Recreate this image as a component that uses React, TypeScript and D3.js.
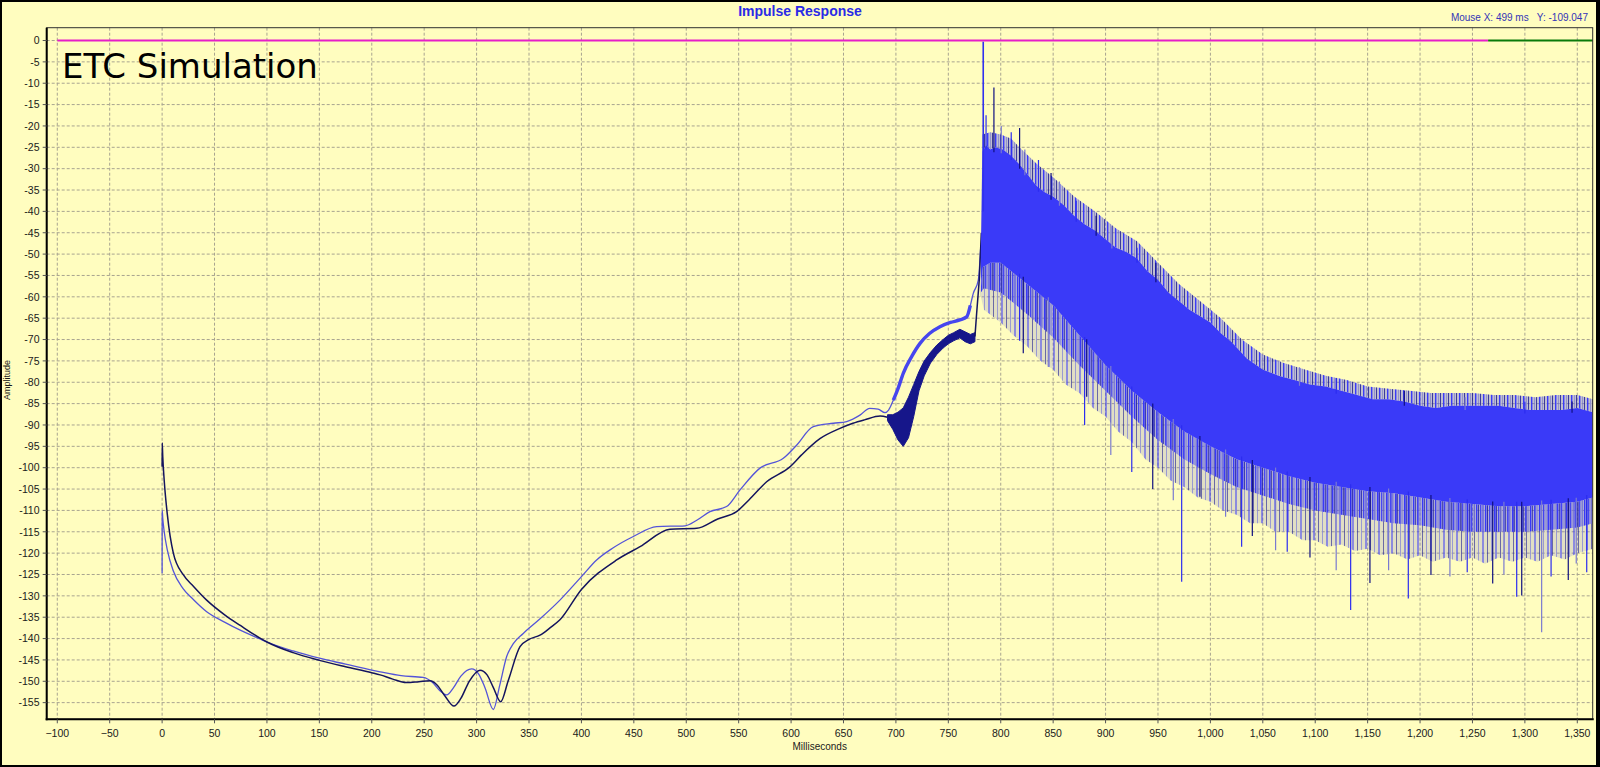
import React, { useEffect } from "react";
import * as d3 from "d3";

const W = 1600;
const H = 767;

const xTicks = [-100, -50, 0, 50, 100, 150, 200, 250, 300, 350, 400, 450, 500, 550, 600, 650, 700, 750, 800, 850, 900, 950, 1000, 1050, 1100, 1150, 1200, 1250, 1300, 1350];
const yTicks = [0, -5, -10, -15, -20, -25, -30, -35, -40, -45, -50, -55, -60, -65, -70, -75, -80, -85, -90, -95, -100, -105, -110, -115, -120, -125, -130, -135, -140, -145, -150, -155];

type P = [number, number];

// dark (navy) smooth series
const darkCurve: P[] = [
  [0, -99.8], [0.1, -94.2], [0.6, -97.4], [2, -103], [5, -111], [10.7, -120], [20, -125], [30, -127.8], [42.5, -131],
  [60, -134.5], [75, -137], [93.4, -139.9], [100, -140.8], [125, -143.3], [150, -145.1], [175, -146.6], [200, -148],
  [208, -148.5], [220, -149.5], [233, -150.3], [245, -150.1], [255.5, -149.9], [262, -150.8], [270, -153.5], [278.4, -155.8],
  [285, -154], [293, -150], [303.2, -147.4], [310, -148.5], [316, -151.5], [323, -154.8], [330, -150], [341.4, -141.9],
  [350, -140.2], [360.5, -139.2], [370, -137.5], [379.5, -135.6], [400, -128.5], [433.6, -121.6], [455.9, -118.5],
  [484.5, -114.4], [510, -114.2], [530, -112], [548, -110.3], [560, -107.5], [576.7, -103.3], [598.9, -99.8], [610, -97],
  [627.5, -93.2], [646.6, -90.8], [659, -89.6], [670, -88.8], [685, -87.9], [692, -88.2]
];
// dark series noisy stretch (envelope)
const darkNoiseUpper: P[] = [
  [692, -87.6], [697, -87.6], [702, -87], [707, -86], [712, -83.5], [717, -80.5], [722, -77.5], [727, -75], [733, -73],
  [739, -71.3], [745, -70], [750, -69], [755, -68.4], [761, -67.6], [766, -68.2], [771, -68.8], [775.4, -68.4]
];
const darkNoiseLower: P[] = [
  [692, -89], [697, -91], [702, -93.5], [707, -95], [712, -93], [717, -88], [722, -82], [727, -78.5], [733, -75.5],
  [739, -73.5], [745, -72], [750, -71], [755, -70.3], [761, -69.6], [766, -70.5], [771, -71], [775.4, -70.5]
];
const darkRise: P[] = [[775.4, -69.3], [777, -63.9], [779.5, -56.1], [781.5, -45]];

// light (blue) smooth series
const lightCurve: P[] = [
  [0, -124.7], [0.1, -110], [0.6, -111.8], [2, -115], [5, -119.3], [10.7, -124.2], [20, -128.3], [30, -130.9], [42.5, -133.7],
  [60, -136.2], [75, -138.1], [93.4, -140.1], [100, -140.8], [125, -142.9], [150, -144.6], [175, -146], [200, -147.4],
  [208, -147.8], [228, -148.7], [249, -149.1], [258, -150.3], [265, -152.2], [271.5, -153.2], [278, -151.5], [285, -148.8],
  [295.3, -147.1], [302, -148.3], [308, -151.5], [316, -156.6], [322, -151], [328.7, -144.2], [335, -141.2], [344.5, -138.8],
  [360, -135.5], [379.5, -131], [400, -125.5], [414.5, -121.6], [430, -118.8], [449.5, -116.1], [471.8, -113.8],
  [498.8, -113.6], [510, -112.3], [522.6, -110.3], [538.5, -109.1], [551.3, -105.2], [570.3, -100.1], [592.6, -97.8],
  [605, -94.8], [621.2, -90.4], [640.3, -89.6], [653, -89.2], [665.7, -87.7], [675, -86.1], [683, -86.3], [689.6, -87.1],
  [693, -86.5], [697.5, -84.2], [702, -81.5], [707, -77.9], [715, -74], [723, -70.9], [732, -68.6], [742, -67], [752, -66],
  [761, -65.4], [767.5, -64.7], [771, -62], [773.8, -59.2], [778.6, -56.1], [781, -48]
];

// dense decay region after the direct arrival
const topFringe: P[] = [
  [782.5, -22], [790, -21.5], [800, -22], [810, -23], [820, -25.5], [835, -29], [850, -32], [870, -36.5], [890, -40],
  [910, -44], [930, -47], [950, -52], [970, -57], [990, -61], [1010, -65], [1030, -70], [1050, -73.5], [1070, -75.5],
  [1090, -77], [1110, -78.5], [1130, -79.5], [1150, -81], [1170, -81.5], [1190, -82], [1210, -82.5], [1230, -82.5],
  [1250, -82.5], [1270, -83], [1290, -83], [1310, -83.5], [1330, -83], [1350, -83], [1365, -84]
];
const bodyUpper: P[] = [
  [781, -50], [782.5, -26], [786, -24.5], [790, -25.5], [795, -25], [802, -25.5], [810, -27], [818, -29], [826, -31.5],
  [834, -34], [842, -35.5], [850, -36.5], [860, -38.5], [870, -41], [880, -43], [890, -44.5], [900, -46.5], [910, -48.5],
  [920, -49.5], [930, -51], [940, -54], [950, -56], [960, -59], [970, -61], [980, -63], [990, -64.5], [1000, -66],
  [1010, -68.5], [1020, -70.5], [1035, -74.5], [1050, -77], [1065, -78.5], [1080, -79.5], [1095, -80.5], [1110, -81],
  [1125, -82], [1140, -83], [1155, -84], [1170, -84], [1185, -84.5], [1200, -85.5], [1215, -86], [1230, -85.5],
  [1245, -85.5], [1260, -85.5], [1275, -85.5], [1290, -86], [1305, -86.5], [1320, -86.5], [1335, -86.5], [1350, -86], [1365, -87]
];
const bodyLower: P[] = [
  [781, -58], [783, -53], [790, -52], [800, -52], [825, -57], [850, -62], [875, -69], [900, -76], [925, -82], [950, -87],
  [975, -91.5], [1000, -95], [1025, -98], [1050, -100], [1075, -102], [1100, -103.5], [1125, -104.5], [1150, -105.5],
  [1175, -106], [1200, -107], [1225, -108], [1250, -108.5], [1275, -109], [1300, -109], [1325, -108.5], [1350, -108], [1365, -107]
];
const fringeMid: P[] = [
  [781, -59], [784, -58], [800, -59], [825, -64], [850, -69.5], [875, -76], [900, -82], [925, -88], [950, -93.5],
  [975, -98], [1000, -101.5], [1025, -104.5], [1050, -106.5], [1075, -108.5], [1100, -110], [1125, -111], [1150, -112],
  [1175, -113], [1200, -113.5], [1225, -114.5], [1250, -115], [1275, -115], [1300, -115], [1325, -114.5], [1350, -114], [1365, -113]
];
const fringeLower: P[] = [
  [781, -60], [784, -63], [800, -66], [812, -69], [825, -71.5], [838, -75], [850, -77], [862, -80.5], [875, -82.5],
  [888, -86], [900, -88], [912, -91.5], [925, -94], [938, -98], [950, -100], [962, -103], [975, -104.5], [988, -107],
  [1000, -108], [1012, -110], [1025, -111], [1038, -113], [1050, -113], [1062, -115], [1075, -115], [1088, -117],
  [1100, -117], [1112, -118.5], [1125, -118], [1138, -119.5], [1150, -119], [1162, -120.5], [1175, -120], [1188, -121.5],
  [1200, -120.5], [1212, -122], [1225, -121], [1238, -122], [1250, -121], [1262, -122.5], [1275, -121], [1288, -122],
  [1300, -121], [1312, -122], [1325, -120.5], [1338, -121.5], [1350, -120], [1365, -119]
];
const spikesUp: P[] = [
  [786, -17.5], [793.5, -11], [800.5, -20], [810, -21.5], [818, -20.5], [823, -25.5], [836, -28], [848, -31], [856, -33],
  [872, -37.5], [891, -41], [906, -43.5], [930, -48.5], [948, -52], [1085, -76.5], [1120, -79], [1185, -82], [1243, -83.5],
  [1300, -84.5], [1345, -84.5]
];
const spikesDown: P[] = [
  [818, -70.3], [821.5, -73.2], [845.4, -76.4], [880, -90], [882, -83.4], [905, -97], [925, -101], [945, -105],
  [964.6, -107.6], [972.6, -126.7], [990, -106.8], [1014.5, -111.5], [1029.8, -118.5], [1040, -116], [1062.2, -119.3],
  [1073.3, -119.7], [1095, -121], [1120, -124], [1133.8, -133.3], [1152.2, -127], [1170, -124], [1188.8, -130.6],
  [1210.4, -125.1], [1228.5, -125.5], [1245, -124.5], [1269.3, -127.1], [1280, -125], [1292.2, -130.2], [1297, -129.9],
  [1316, -138.5], [1325, -125.5], [1341.4, -126.3], [1349, -122.4], [1359, -124.5]
];
const directArrival: P = [783.3, -0.3];

const magentaRef: [number, number] = [-100, 1265];
const greenRef: [number, number] = [1265, 1365];

const FONT = "'Liberation Sans', Arial, sans-serif";

export default function App() {
  useEffect(() => {
    document.body.style.margin = "0";
  }, []);

  const L = 46.7, R = 1592.7, T = 27.7, B = 719.3;
  const x = d3.scaleLinear().domain([-110.1, 1364.7]).range([L, R]);
  const y = d3.scaleLinear().domain([3, -158.9]).range([T, B]);

  const smooth = d3.line<P>().x(d => x(d[0])).y(d => y(d[1])).curve(d3.curveMonotoneX);
  const straight = d3.line<P>().x(d => x(d[0])).y(d => y(d[1]));
  const band = (up: P[], lo: P[]) => (straight([...up, ...lo.slice().reverse()]) || "") + "Z";

  const interp = (arr: P[], t: number) => {
    const i = d3.bisector((d: P) => d[0]).left(arr, t);
    if (i <= 0) return arr[0][1];
    if (i >= arr.length) return arr[arr.length - 1][1];
    const a = arr[i - 1], b = arr[i];
    return a[1] + ((t - a[0]) / (b[0] - a[0])) * (b[1] - a[1]);
  };

  const lightNoisy = lightCurve.filter(d => d[0] >= 695 && d[0] <= 772);
  const fmt = d3.format(",");
  const spikeCols = ["#2c2cf0", "#101080", "#7a7ad0"];

  return (
    <svg width={W} height={H} style={{ display: "block" }}>
      <defs>
        <clipPath id="plot">
          <rect x={L} y={T} width={R - L} height={B - T} />
        </clipPath>
        <pattern id="fringeA" width="9" height="8" patternUnits="userSpaceOnUse">
          <rect x="0" y="0" width="1.4" height="8" fill="#3838f8" />
          <rect x="2.2" y="0" width="0.8" height="8" fill="#1a1a90" opacity="0.8" />
          <rect x="4.1" y="0" width="1.2" height="8" fill="#3c3cf4" />
          <rect x="6.6" y="0" width="0.9" height="8" fill="#8080d0" />
        </pattern>
        <pattern id="fringeB" width="13" height="8" patternUnits="userSpaceOnUse">
          <rect x="0.5" y="0" width="1" height="8" fill="#3838f8" />
          <rect x="5" y="0" width="0.8" height="8" fill="#1a1a90" opacity="0.75" />
          <rect x="9" y="0" width="0.8" height="8" fill="#8888d4" />
        </pattern>
        <pattern id="fringeTop" width="8" height="8" patternUnits="userSpaceOnUse">
          <rect x="0" y="0" width="1" height="8" fill="#1a1a8c" opacity="0.8" />
          <rect x="3" y="0" width="1.4" height="8" fill="#3a3af8" />
          <rect x="6" y="0" width="0.8" height="8" fill="#7070c8" opacity="0.7" />
        </pattern>
      </defs>
      <rect x={0} y={0} width={W} height={H} fill="#000" />
      <rect x={2} y={2} width={W - 6} height={H - 4} fill="#FFFDBF" />

      {/* grid */}
      <g stroke="#a8a490" strokeWidth={1} strokeDasharray="3,2">
        {xTicks.map(t => (
          <line key={"gx" + t} x1={x(t)} x2={x(t)} y1={T} y2={B} />
        ))}
        {yTicks.map(v => (
          <line key={"gy" + v} x1={L} x2={R} y1={y(v)} y2={y(v)} />
        ))}
      </g>

      <g clipPath="url(#plot)">
        {/* reference lines */}
        <line x1={x(magentaRef[0])} x2={x(magentaRef[1])} y1={y(0)} y2={y(0)} stroke="#e61ec8" strokeWidth={2} />
        <line x1={x(greenRef[0])} x2={x(greenRef[1])} y1={y(0)} y2={y(0)} stroke="#0a7a0a" strokeWidth={2} />

        {/* smooth pre-arrival curves */}
        <path d={smooth(lightCurve) || ""} fill="none" stroke="#5454d8" strokeWidth={1.3} />
        <path d={smooth(lightNoisy) || ""} fill="none" stroke="#4646ee" strokeWidth={3.4} />
        <path d={smooth(darkCurve) || ""} fill="none" stroke="#14145e" strokeWidth={1.5} />
        <path d={band(darkNoiseUpper, darkNoiseLower)} fill="#16168a" stroke="#16168a" strokeWidth={1} />
        <path d={straight(darkRise) || ""} fill="none" stroke="#14145e" strokeWidth={1.5} />

        {/* dense decay */}
        <path d={band(fringeMid, fringeLower)} fill="#5a5ae0" fillOpacity={0.18} />
        <path d={band(bodyLower, fringeLower)} fill="url(#fringeB)" />
        <path d={band(bodyLower, fringeMid)} fill="#4a4af0" fillOpacity={0.45} />
        <path d={band(bodyLower, fringeMid)} fill="url(#fringeA)" />
        <path d={band(topFringe, bodyUpper)} fill="#4a4af0" fillOpacity={0.35} />
        <path d={band(topFringe, bodyUpper)} fill="url(#fringeTop)" />
        <path d={band(bodyUpper, bodyLower)} fill="#3a3af8" />
        {spikesUp.map((d, i) => (
          <line key={"su" + i} x1={x(d[0])} x2={x(d[0])} y1={y(interp(bodyUpper, d[0]) - 1)} y2={y(d[1])}
            stroke={spikeCols[i % 3]} strokeWidth={1.2} />
        ))}
        {spikesDown.map((d, i) => (
          <line key={"sd" + i} x1={x(d[0])} x2={x(d[0])} y1={y(interp(bodyLower, d[0]) + 1)} y2={y(d[1])}
            stroke={spikeCols[i % 3]} strokeWidth={1.2} />
        ))}
        <line x1={x(directArrival[0])} x2={x(directArrival[0])} y1={y(-40)} y2={y(directArrival[1])} stroke="#3030f0" strokeWidth={1.6} />
      </g>

      {/* frame */}
      <rect x={L} y={T} width={R - L} height={B - T} fill="none" stroke="#303030" strokeWidth={1} />
      <line x1={L} x2={L} y1={T} y2={B + 1} stroke="#000" strokeWidth={2} />
      <line x1={L - 1} x2={R + 1} y1={B} y2={B} stroke="#000" strokeWidth={2} />

      {/* y axis */}
      <g fontFamily={FONT} fontSize={10.5} fill="#1a1a1a" textAnchor="end">
        {yTicks.map(v => (
          <g key={"ty" + v}>
            <line x1={L - 4} x2={L} y1={y(v)} y2={y(v)} stroke="#555" strokeWidth={1} />
            <text x={39.5} y={y(v) + 3.8}>{v}</text>
          </g>
        ))}
      </g>
      {/* x axis */}
      <g fontFamily={FONT} fontSize={10.5} fill="#1a1a1a" textAnchor="middle">
        {xTicks.map(t => (
          <g key={"tx" + t}>
            <line x1={x(t)} x2={x(t)} y1={B} y2={B + 4} stroke="#555" strokeWidth={1} />
            <text x={x(t)} y={737}>{fmt(t)}</text>
          </g>
        ))}
      </g>

      <text x={(L + R) / 2} y={750} fontFamily={FONT} fontSize={10} fill="#1a1a1a" textAnchor="middle">Milliseconds</text>
      <text transform="translate(10,380) rotate(-90)" fontFamily={FONT} fontSize={9} fill="#1a1a1a" textAnchor="middle">Amplitude</text>

      <text x={800} y={16} fontFamily={FONT} fontSize={14} fontWeight="bold" fill="#2a2ae6" textAnchor="middle">Impulse Response</text>
      <text x={1588} y={21} fontFamily={FONT} fontSize={10} fill="#3434b8" textAnchor="end" xmlSpace="preserve">Mouse X: 499 ms   Y: -109.047</text>

      <text x={62} y={77.5} fontFamily="'DejaVu Sans', Verdana, sans-serif" fontSize={34} fill="#000">ETC Simulation</text>
    </svg>
  );
}
